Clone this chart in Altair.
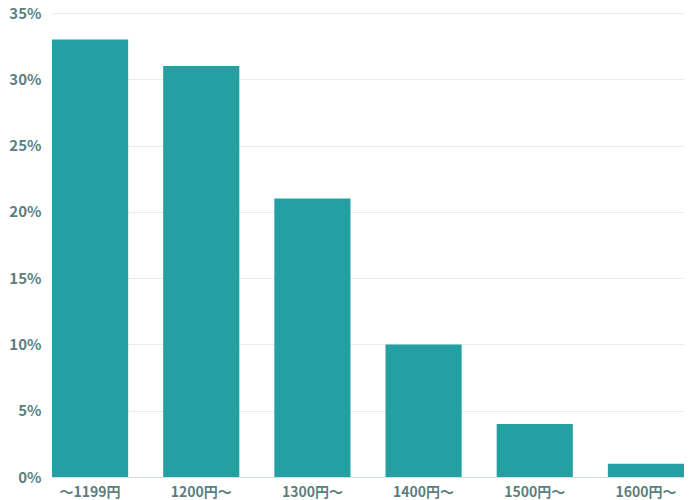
import altair as alt
import pandas as pd

categories = ["〜1199円", "1200円〜", "1300円〜", "1400円〜", "1500円〜", "1600円〜"]
values = [33, 31, 21, 10, 4, 1]

df = pd.DataFrame({"cat": categories, "val": [v / 100 for v in values]})

label_color = "#5b7f80"
font = "Noto Sans CJK JP"

chart = alt.Chart(df).mark_bar(color="#25a0a2").encode(
    x=alt.X("cat:N", sort=categories, title=None,
            scale=alt.Scale(paddingInner=0.315, paddingOuter=0),
            axis=alt.Axis(labelAngle=0, ticks=False, labelFont=font, labelFontSize=14,
                          labelFontWeight="bold", labelColor=label_color, labelPadding=8,
                          domainColor="#cfdede", grid=False)),
    y=alt.Y("val:Q", title=None,
            scale=alt.Scale(domain=[0, 0.35], nice=False),
            axis=alt.Axis(format=".0%", values=[0, 0.05, 0.1, 0.15, 0.2, 0.25, 0.3, 0.35],
                          ticks=False, domain=False, labelFont=font, labelFontSize=15,
                          labelFontWeight="bold", labelColor=label_color, labelPadding=11,
                          gridColor="#e6eded", labelBaseline="middle")),
).properties(
    width=632, height=464,
    autosize=alt.AutoSizeParams(type="none"),
    padding={"left": 44, "top": 5, "right": 3, "bottom": 22},
).configure_view(stroke=None)

chart.save("out.html", embed_options={"renderer": "svg", "actions": False})
